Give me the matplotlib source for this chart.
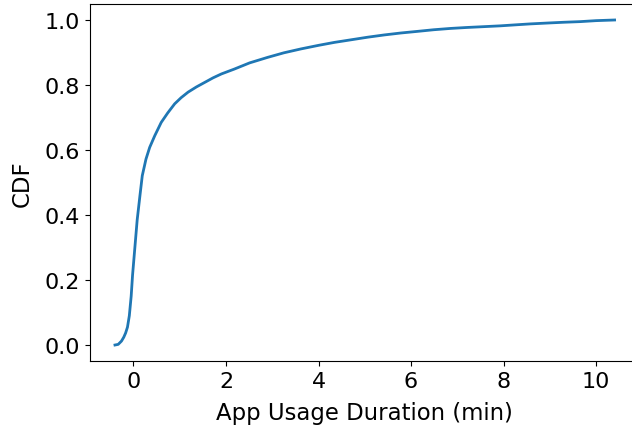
import numpy as np
import matplotlib.pyplot as plt

# CDF of app usage duration
duration = [-0.40, -0.33, -0.26, -0.21, -0.17, -0.13, -0.09, -0.05, -0.02, 0.03, 0.08,
            0.14, 0.19, 0.27, 0.35, 0.46, 0.60, 0.74, 0.89, 1.03, 1.18,
            1.36, 1.54, 1.72, 1.90, 2.18, 2.51, 2.90, 3.25, 3.62, 4.00,
            4.34, 4.70, 5.06, 5.42, 5.78, 6.14, 6.49, 6.85, 7.21, 7.50,
            7.93, 8.25, 8.58, 9.00, 9.30, 9.66, 10.0, 10.4]
cdf = [0.000, 0.002, 0.012, 0.024, 0.037, 0.055, 0.090, 0.150, 0.215, 0.300, 0.385,
       0.460, 0.521, 0.572, 0.608, 0.644, 0.685, 0.714, 0.742, 0.761, 0.778,
       0.794, 0.808, 0.822, 0.834, 0.849, 0.868, 0.885, 0.899, 0.911, 0.922,
       0.931, 0.939, 0.947, 0.954, 0.960, 0.965, 0.970, 0.974, 0.977, 0.979,
       0.982, 0.985, 0.988, 0.991, 0.993, 0.995, 0.998, 1.000]

plt.rcParams['font.size'] = 16
fig = plt.figure(figsize=(6.32, 4.27), dpi=100)
ax = fig.add_axes([0.1424, 0.1516, 0.8696, 0.8373])
ax.plot(duration, cdf, color='tab:blue', lw=2)
ax.set_xlabel('App Usage Duration (min)', fontsize=16.4, labelpad=7.5)
ax.set_ylabel('CDF', fontsize=16.4, labelpad=8)
ax.set_xticks([0, 2, 4, 6, 8, 10])
ax.set_yticks([0.0, 0.2, 0.4, 0.6, 0.8, 1.0])
fig.savefig('out.png', dpi=100)
